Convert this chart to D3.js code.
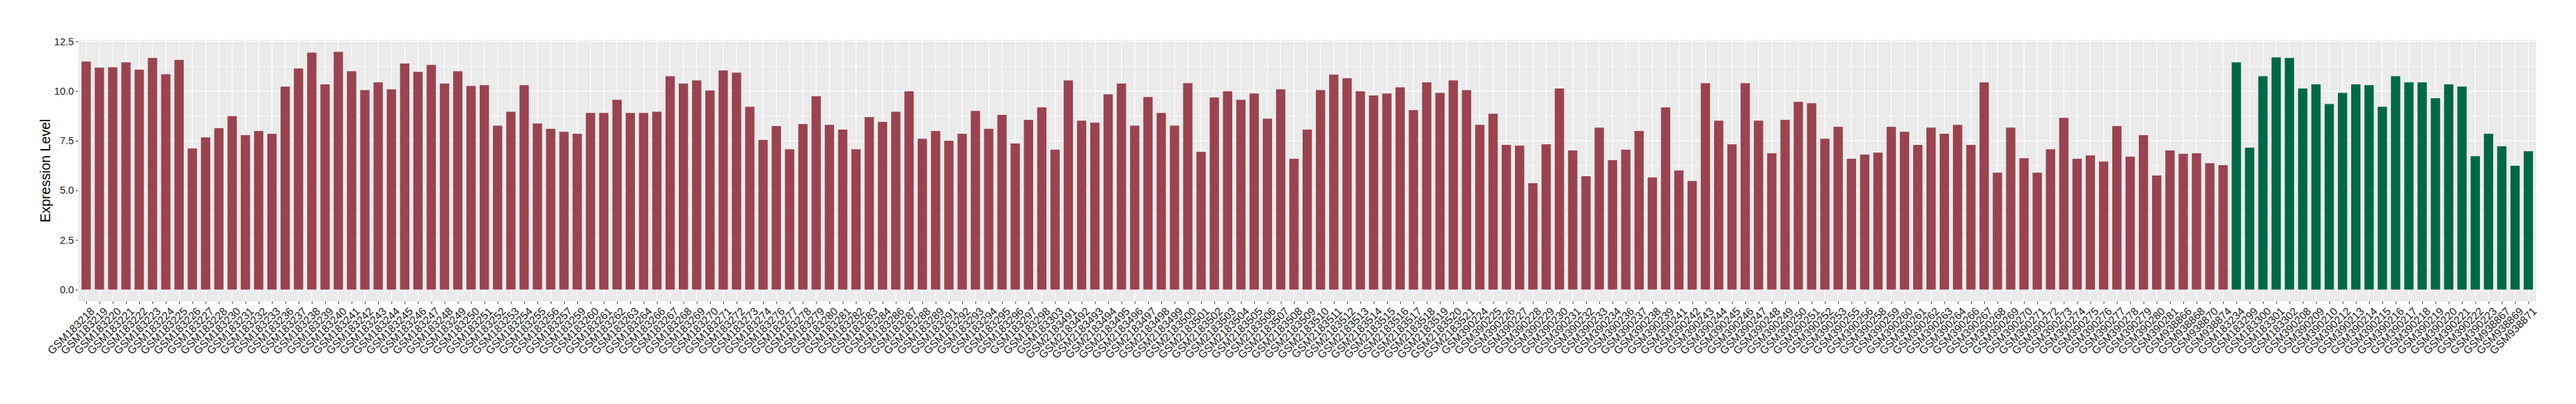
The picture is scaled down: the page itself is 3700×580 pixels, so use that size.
<!DOCTYPE html>
<html>
<head>
<meta charset="utf-8">
<script src="https://cdn.jsdelivr.net/npm/d3@7"></script>
<style>
  body { margin: 0; background: #fff; }
  svg { display: block; font-family: "Liberation Sans", Arial, sans-serif; }
</style>
</head>
<body>
<div id="chart"></div>
<script>
// samples of the first group (drawn in red)
var redSamples = [
  "GSM183218","GSM183219","GSM183220","GSM183221","GSM183222","GSM183223","GSM183224","GSM183225",
  "GSM183226","GSM183227","GSM183228","GSM183230","GSM183231","GSM183232","GSM183233","GSM183236",
  "GSM183237","GSM183238","GSM183239","GSM183240","GSM183241","GSM183242","GSM183243","GSM183244",
  "GSM183245","GSM183246","GSM183247","GSM183248","GSM183249","GSM183250","GSM183251","GSM183252",
  "GSM183253","GSM183254","GSM183255","GSM183256","GSM183257","GSM183259","GSM183260","GSM183261",
  "GSM183262","GSM183263","GSM183264","GSM183266","GSM183267","GSM183268","GSM183269","GSM183270",
  "GSM183271","GSM183272","GSM183273","GSM183274","GSM183276","GSM183277","GSM183278","GSM183279",
  "GSM183280","GSM183281","GSM183282","GSM183283","GSM183284","GSM183286","GSM183287","GSM183288",
  "GSM183289","GSM183291","GSM183292","GSM183293","GSM183294","GSM183295","GSM183296","GSM183297",
  "GSM183298","GSM183303","GSM2183491","GSM2183492","GSM2183493","GSM2183494","GSM2183495","GSM2183496",
  "GSM2183497","GSM2183498","GSM2183499","GSM2183500","GSM2183501","GSM2183502","GSM2183503","GSM2183504",
  "GSM2183505","GSM2183506","GSM2183507","GSM2183508","GSM2183509","GSM2183510","GSM2183511","GSM2183512",
  "GSM2183513","GSM2183514","GSM2183515","GSM2183516","GSM2183517","GSM2183518","GSM2183519","GSM2183520",
  "GSM2183521","GSM390224","GSM390225","GSM390226","GSM390227","GSM390228","GSM390229","GSM390230",
  "GSM390231","GSM390232","GSM390233","GSM390234","GSM390236","GSM390237","GSM390238","GSM390239",
  "GSM390241","GSM390242","GSM390243","GSM390244","GSM390245","GSM390246","GSM390247","GSM390248",
  "GSM390249","GSM390250","GSM390251","GSM390252","GSM390253","GSM390255","GSM390256","GSM390258",
  "GSM390259","GSM390260","GSM390261","GSM390262","GSM390263","GSM390264","GSM390266","GSM390267",
  "GSM390268","GSM390269","GSM390270","GSM390271","GSM390272","GSM390273","GSM390274","GSM390275",
  "GSM390276","GSM390277","GSM390278","GSM390279","GSM390280","GSM390281","GSM938866","GSM938868",
  "GSM938870","GSM938874"
];
var redValues = [
  11.49,11.18,11.20,11.45,11.08,11.67,10.85,11.57,
  7.11,7.67,8.13,8.74,7.78,7.99,7.85,10.23,
  11.14,11.94,10.34,11.98,11.00,10.05,10.44,10.09,
  11.39,10.97,11.32,10.38,11.00,10.26,10.30,8.26,
  8.96,10.30,8.37,8.10,7.95,7.85,8.90,8.90,
  9.56,8.90,8.90,8.96,10.75,10.38,10.54,10.03,
  11.04,10.93,9.21,7.54,8.24,7.07,8.34,9.74,
  8.30,8.06,7.07,8.69,8.45,8.96,9.99,7.60,
  7.99,7.50,7.85,9.00,8.10,8.80,7.36,8.55,
  9.18,7.05,10.54,8.51,8.41,9.84,10.38,8.26,
  9.70,8.90,8.26,10.40,6.94,9.68,9.99,9.56,
  9.88,8.61,10.09,6.59,8.06,10.05,10.83,10.65,
  9.99,9.78,9.88,10.19,9.04,10.44,9.91,10.54,
  10.05,8.30,8.86,7.29,7.25,5.36,7.32,10.13,
  7.01,5.71,8.16,6.52,7.05,7.99,5.65,9.18,
  6.00,5.47,10.40,8.51,7.32,10.40,8.51,6.87,
  8.55,9.46,9.39,7.60,8.20,6.59,6.80,6.90,
  8.20,7.95,7.29,8.16,7.85,8.30,7.29,10.44,
  5.89,8.16,6.62,5.89,7.07,8.65,6.59,6.76,
  6.45,8.24,6.70,7.78,5.75,7.01,6.84,6.87,
  6.37,6.27
];

// samples of the second group (drawn in green)
var greenSamples = [
  "GSM183234","GSM183299","GSM183300","GSM183301","GSM183302","GSM390208","GSM390209","GSM390210",
  "GSM390212","GSM390213","GSM390214","GSM390215","GSM390216","GSM390217","GSM390218","GSM390219",
  "GSM390220","GSM390221","GSM390222","GSM390223","GSM938867","GSM938869","GSM938871"
];
var greenValues = [
  11.45,7.15,10.75,11.70,11.67,10.13,10.34,9.35,
  9.91,10.34,10.30,9.21,10.75,10.44,10.44,9.64,
  10.34,10.23,6.72,7.85,7.22,6.24,6.97
];

var yTicks = [0, 2.5, 5, 7.5, 10, 12.5];
var yLabel = "Expression Level";

var redColor = "#9A4351";
var greenColor = "#016847";

var data = [];
redSamples.forEach(function(s, i) { data.push({ sample: s, value: redValues[i], color: redColor }); });
greenSamples.forEach(function(s, i) { data.push({ sample: s, value: greenValues[i], color: greenColor }); });

var svgWidth = 3700, svgHeight = 580;
var margin = { top: 57.3, right: 57, bottom: 147.2, left: 112.3 };
var width = svgWidth - margin.left - margin.right;
var height = svgHeight - margin.top - margin.bottom;

var svg = d3.select("#chart").append("svg")
  .attr("width", svgWidth)
  .attr("height", svgHeight);

var chartGroup = svg.append("g")
  .attr("transform", `translate(${margin.left}, ${margin.top})`);

// discrete x scale, ggplot style expansion (0.6 of a step each side)
var xScale = d3.scalePoint()
  .domain(data.map(d => d.sample))
  .range([0, width])
  .padding(0.6);
var step = xScale.step();
var barWidth = step * 0.7;

var yMax = d3.max(data, d => d.value);
var yScale = d3.scaleLinear()
  .domain([-0.05 * yMax, yMax * 1.05])
  .range([height, 0]);

// panel background
chartGroup.append("rect")
  .attr("width", width)
  .attr("height", height)
  .attr("fill", "#EBEBEB");

// minor y grid
var minorTicks = d3.range(1.25, 12.6, 2.5);
chartGroup.selectAll(".minor")
  .data(minorTicks)
  .enter()
  .append("line")
  .attr("x1", 0).attr("x2", width)
  .attr("y1", d => yScale(d)).attr("y2", d => yScale(d))
  .attr("stroke", "#fff")
  .attr("stroke-width", 0.55);

// major y grid
chartGroup.selectAll(".majorY")
  .data(yTicks)
  .enter()
  .append("line")
  .attr("x1", 0).attr("x2", width)
  .attr("y1", d => yScale(d)).attr("y2", d => yScale(d))
  .attr("stroke", "#fff")
  .attr("stroke-width", 1.1);

// major x grid
chartGroup.selectAll(".majorX")
  .data(data)
  .enter()
  .append("line")
  .attr("x1", d => xScale(d.sample)).attr("x2", d => xScale(d.sample))
  .attr("y1", 0).attr("y2", height)
  .attr("stroke", "#fff")
  .attr("stroke-width", 1.1);

// bars
chartGroup.selectAll(".bar")
  .data(data)
  .enter()
  .append("rect")
  .attr("x", d => xScale(d.sample) - barWidth / 2)
  .attr("width", barWidth)
  .attr("y", d => yScale(d.value))
  .attr("height", d => yScale(0) - yScale(d.value))
  .attr("fill", d => d.color);

// y axis
var leftAxis = d3.axisLeft(yScale)
  .tickValues(yTicks)
  .tickFormat(d3.format(".1f"))
  .tickSize(3.6)
  .tickPadding(2.5);
var yAxisG = chartGroup.append("g").call(leftAxis);
yAxisG.select(".domain").remove();
yAxisG.selectAll("line").attr("stroke", "#333");
yAxisG.selectAll("text")
  .attr("fill", "#1a1a1a")
  .attr("font-size", "14.6px")
  .attr("font-family", "Liberation Sans, Arial, sans-serif");

// x axis
var bottomAxis = d3.axisBottom(xScale)
  .tickSize(3.6)
  .tickFormat("");
var xAxisG = chartGroup.append("g")
  .attr("transform", `translate(0, ${height})`)
  .call(bottomAxis);
xAxisG.select(".domain").remove();
xAxisG.selectAll("line").attr("stroke", "#333");

// rotated x labels
chartGroup.selectAll(".xlab")
  .data(data)
  .enter()
  .append("text")
  .attr("transform", d => `translate(${xScale(d.sample) + 5}, ${height + 7}) rotate(-45)`)
  .attr("text-anchor", "end")
  .attr("dy", "0.72em")
  .attr("font-size", "15.6px")
  .attr("fill", "#1a1a1a")
  .text(d => d.sample);

// y axis title
svg.append("text")
  .attr("transform", `translate(71.5, ${margin.top + height / 2}) rotate(-90)`)
  .attr("text-anchor", "middle")
  .attr("font-size", "19.5px")
  .attr("fill", "#000")
  .text(yLabel);
</script>
</body>
</html>
